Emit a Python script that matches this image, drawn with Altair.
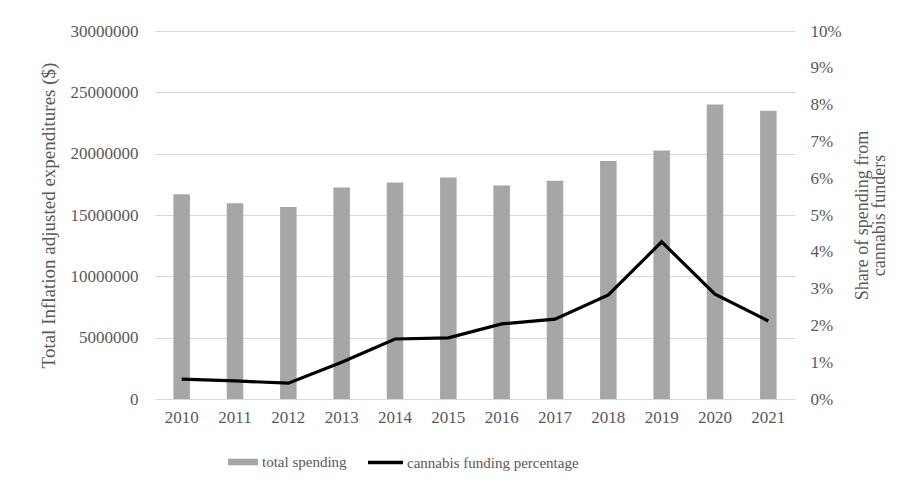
import altair as alt
import pandas as pd

years = ["2010", "2011", "2012", "2013", "2014", "2015", "2016", "2017", "2018", "2019", "2020", "2021"]
total_spending = [16700000, 15950000, 15650000, 17250000, 17650000, 18050000, 17400000, 17800000, 19400000, 20250000, 24000000, 23500000]
cannabis_pct = [0.0054, 0.0049, 0.0043, 0.0100, 0.0163, 0.0166, 0.0204, 0.0217, 0.0283, 0.0427, 0.0285, 0.0212]

df = pd.DataFrame({
    "year": years,
    "spend": total_spending,
    "pct": cannabis_pct,
    "s1": ["total spending"] * len(years),
    "s2": ["cannabis funding percentage"] * len(years),
})

FONT = "Liberation Serif"
LAB = "#595959"

x = alt.X("year:N", title=None, scale=alt.Scale(paddingInner=0.0, paddingOuter=0.0),
          axis=alt.Axis(labelAngle=0, labelFontSize=17, labelColor=LAB, labelFont=FONT,
                        ticks=False, domainColor="#d9d9d9", domainWidth=1.2, labelPadding=10))

bars = alt.Chart(df).mark_bar(width={"band": 0.31}).encode(
    x=x,
    y=alt.Y("spend:Q", scale=alt.Scale(domain=[0, 30000000]),
            axis=alt.Axis(title="Total Inflation adjusted expenditures ($)", values=list(range(0, 30000001, 5000000)),
                          format="d", labelFontSize=17, labelColor=LAB, labelFont=FONT, ticks=False,
                          domain=False, gridColor="#d9d9d9", gridWidth=1.2, labelPadding=17,
                          titleFont=FONT, titleFontSize=19, titleColor=LAB, titleFontWeight="normal",
                          titlePadding=12)),
    color=alt.Color("s1:N", scale=alt.Scale(range=["#a6a6a6"]),
                    legend=alt.Legend(title=None, orient="none", legendX=73, legendY=416,
                                      symbolType="M-1,-0.22H1V0.22H-1Z", symbolSize=900,
                                      symbolStrokeWidth=0, labelFont=FONT, labelFontSize=15,
                                      labelColor=LAB, labelOffset=4, labelLimit=400)),
)

line = alt.Chart(df).mark_line(strokeWidth=3.2, strokeJoin="miter").encode(
    x=x,
    y=alt.Y("pct:Q", scale=alt.Scale(domain=[0, 0.10]),
            axis=alt.Axis(orient="right", title=["Share of spending from", "cannabis funders"],
                          values=[i / 100 for i in range(11)], format=".0%", grid=False,
                          labelFontSize=17, labelColor=LAB, labelFont=FONT, ticks=False, domain=False,
                          labelPadding=15, titleFont=FONT, titleFontSize=18, titleColor=LAB,
                          titleFontWeight="normal", titleAngle=270, titlePadding=13,
                          titleBaseline="bottom", titleLineHeight=17)),
    stroke=alt.Stroke("s2:N", scale=alt.Scale(range=["#000000"]),
                      legend=alt.Legend(title=None, orient="none", legendX=211, legendY=412,
                                        symbolType="M-1,0H1", symbolSize=1225, symbolStrokeWidth=3.5,
                                        labelFont=FONT, labelFontSize=15, labelColor=LAB, labelOffset=2,
                                        labelLimit=400)),
)

chart = alt.layer(bars, line).resolve_scale(y="independent", color="independent").properties(
    width=640, height=368,
    padding={"left": 147, "top": 23, "right": 112, "bottom": 81},
    autosize=alt.AutoSizeParams(type="none"),
    background="white",
).configure_view(stroke=None).configure_legend(
    labelFont=FONT, labelFontSize=15, labelColor=LAB, labelLimit=400
).configure_axis(labelFont=FONT, titleFont=FONT)

chart.save("out.html", embed_options={"renderer": "svg", "actions": False})
